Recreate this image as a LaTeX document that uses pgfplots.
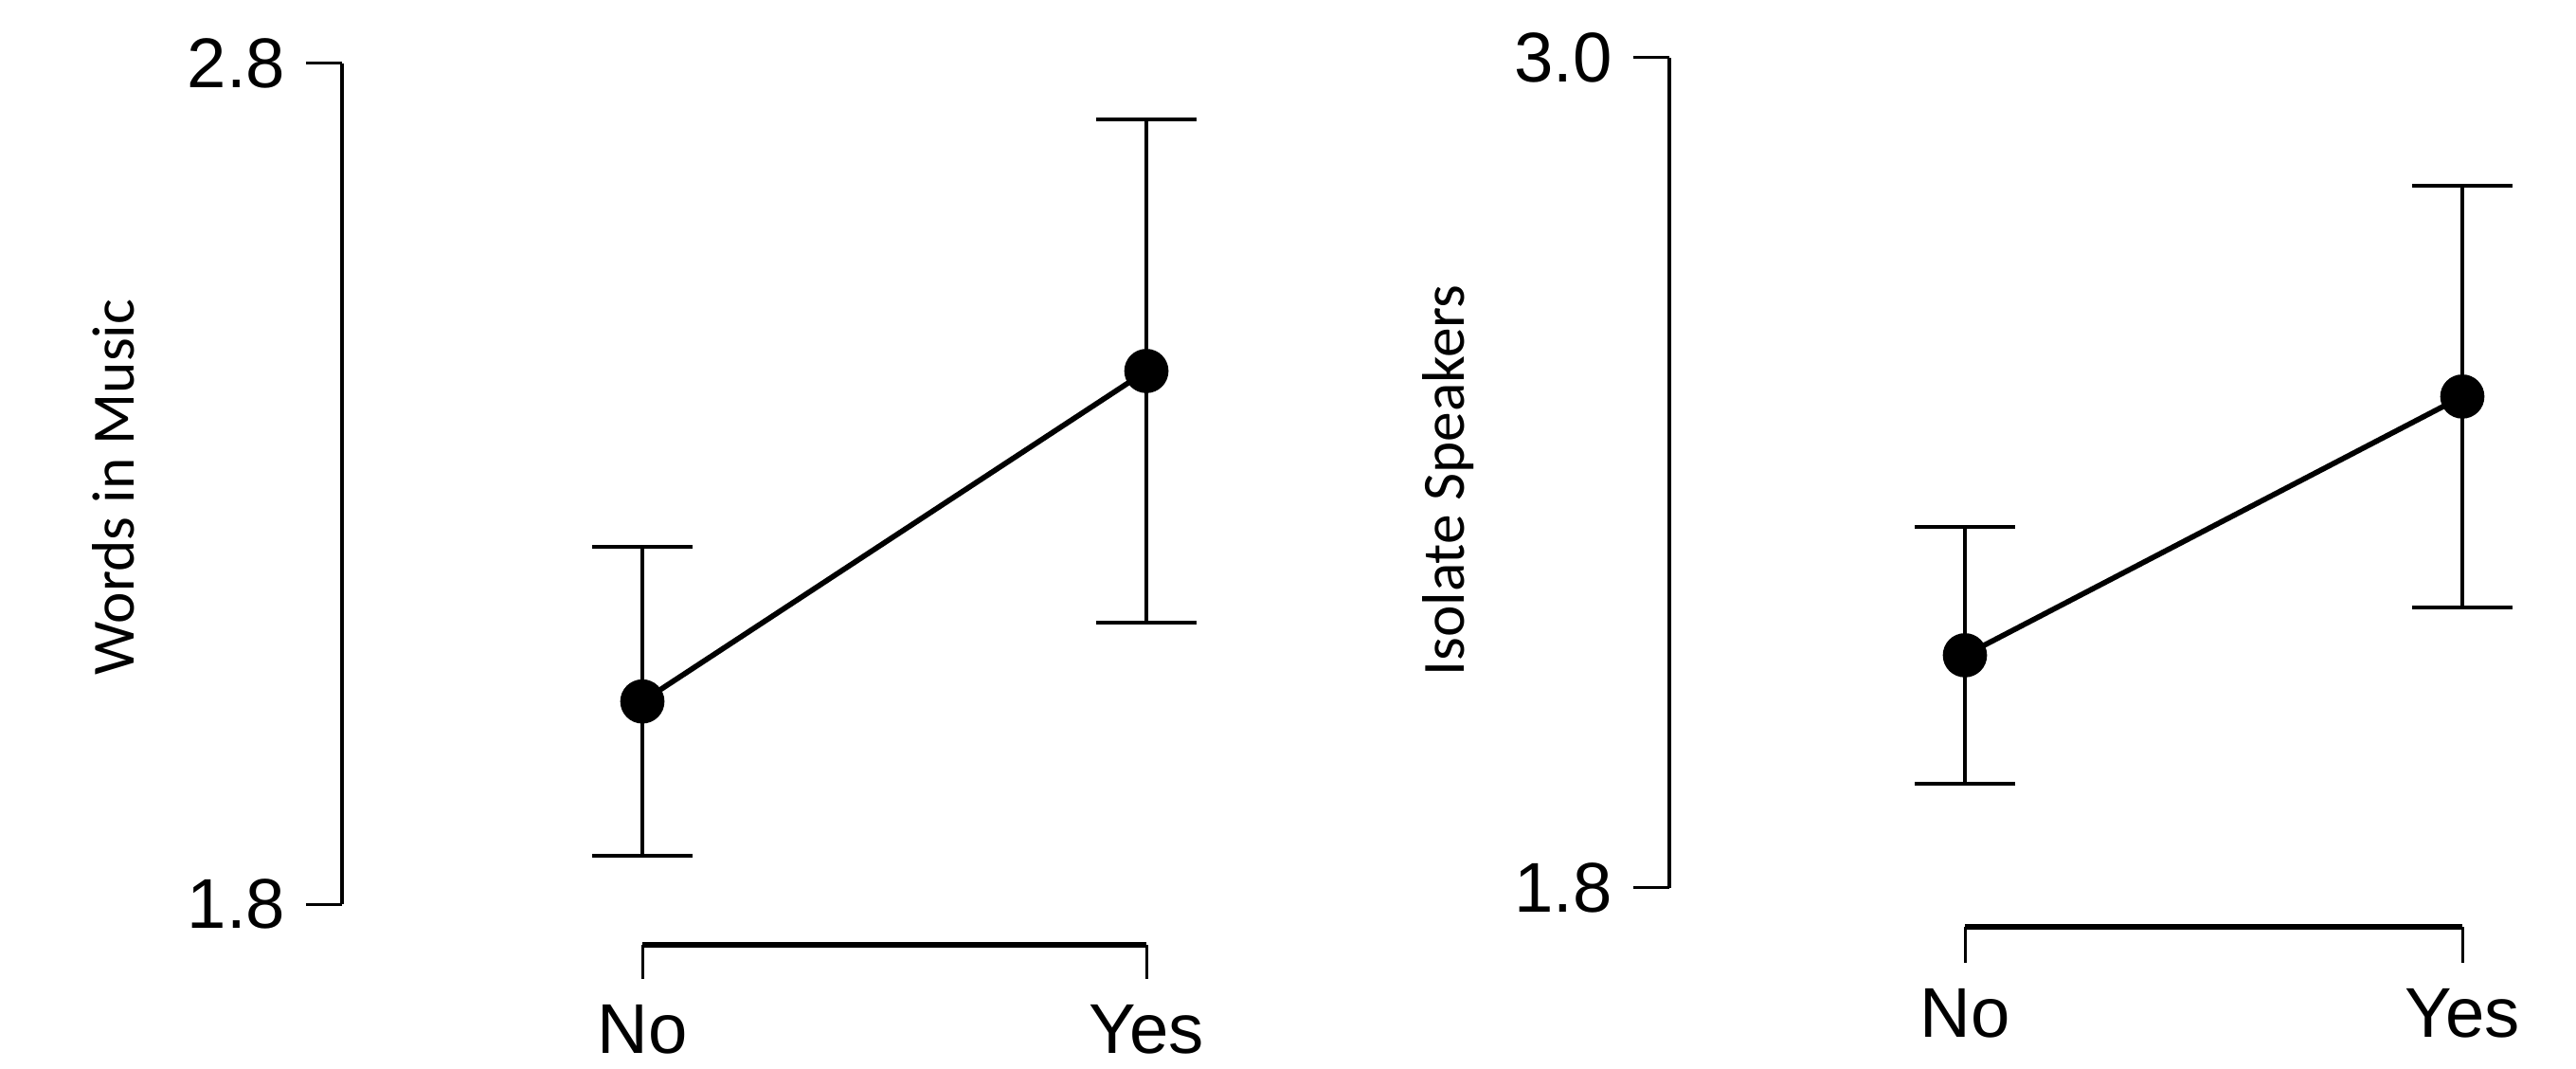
\documentclass[border=0pt]{standalone}
\usepackage{fontspec}
\setmainfont{Liberation Sans}
\newfontfamily\carlito{Carlito}
\usepackage{pgfplots}
\pgfplotsset{compat=1.18}
\newcommand{\ticks}{\fontsize{22.3}{26}\selectfont}
\newcommand{\lab}{\carlito\fontsize{19}{22}\selectfont}
\pgfplotsset{
  yaxstyle/.style={
    scale only axis, anchor=south west, clip=false,
    axis x line=none, axis y line*=left,
    y axis line style={line width=1.2pt, black},
    tick align=outside, major tick length=11.4pt,
    ytick style={line width=0.9pt, black},
    yticklabel style={font=\ticks, xshift=-3pt},
    ylabel style={font=\lab, anchor=base, inner sep=0pt},
  },
  xaxstyle/.style={
    scale only axis, anchor=south west, clip=false,
    xmin=0, xmax=1, ymin=0, ymax=1, height=20pt,
    axis y line=none, axis x line*=bottom,
    x axis line style={line width=1.8pt, black},
    xtick={0,1}, xticklabels={No,Yes},
    tick align=outside,
    xtick style={line width=0.9pt, black},
    xticklabel style={font=\ticks, yshift=-4.8pt},
  },
  datastyle/.style={
    black, line width=1.7pt, mark=*, mark size=6.15pt,
    mark options={solid, fill=black, draw=black},
    error bars/.cd, y dir=both, y explicit,
    error bar style={line width=1.2pt, black},
    error mark options={rotate=90, mark size=15.9pt, line width=1.2pt, black},
  },
}
\begin{document}
\begin{tikzpicture}
\path[use as bounding box] (0,0) rectangle (815.7pt,338.1pt);
% Left panel
\begin{axis}[yaxstyle, at={(108.3pt,51.9pt)},
  width=286.5pt, height=266.19pt,
  xmin=-0.5959, xmax=1.1992, ymin=1.8, ymax=2.8,
  ytick={1.8,2.8}, yticklabels={1.8,2.8},
  ylabel={Words in Music},
  ylabel style={at={(axis description cs:-0.2296,0.496)}},
]
\addplot[datastyle] coordinates {(0,2.041) +- (0,0.184) (1,2.434) +- (0,0.299)};
\end{axis}
\begin{axis}[xaxstyle, at={(203.4pt,39pt)}, width=159.6pt, major tick length=10.8pt]
\addplot[draw=none] coordinates {(0,0.5)};
\end{axis}
% Right panel
\begin{axis}[yaxstyle, at={(528.45pt,57.09pt)},
  width=282.75pt, height=262.8pt,
  xmin=-0.5952, xmax=1.2, ymin=1.8, ymax=3.0,
  ytick={1.8,3.0}, yticklabels={1.8,3.0},
  ylabel={Isolate Speakers},
  ylabel style={at={(axis description cs:-0.2297,0.4905)}},
]
\addplot[datastyle] coordinates {(0,2.136) +- (0,0.186) (1,2.510) +- (0,0.3045)};
\end{axis}
\begin{axis}[xaxstyle, at={(622.2pt,44.7pt)}, width=157.5pt, major tick length=11.3pt]
\addplot[draw=none] coordinates {(0,0.5)};
\end{axis}
\end{tikzpicture}
\end{document}
